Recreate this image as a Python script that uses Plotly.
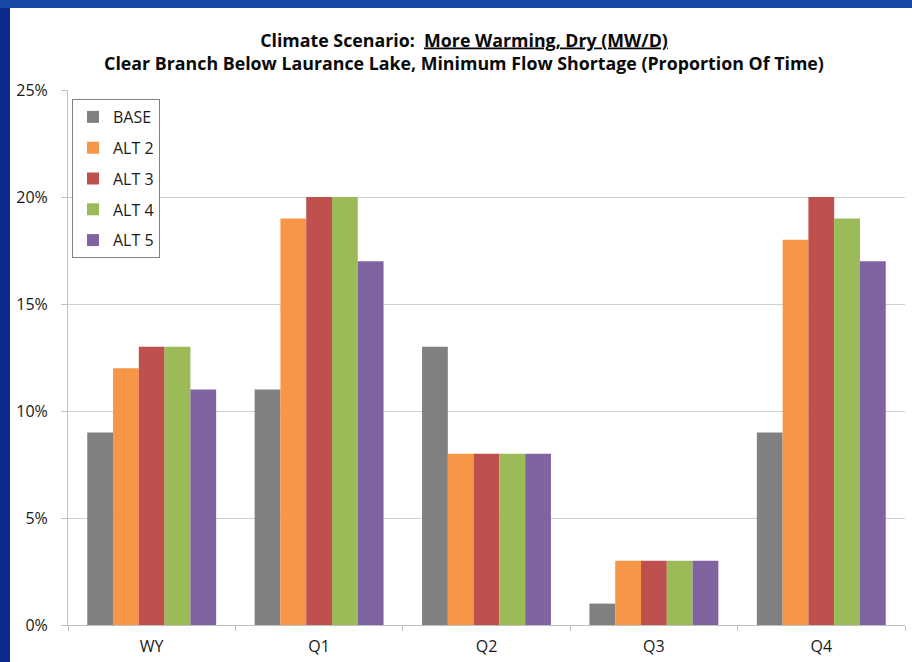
import plotly.graph_objects as go

categories = ["WY", "Q1", "Q2", "Q3", "Q4"]
series_names = ["BASE", "ALT 2", "ALT 3", "ALT 4", "ALT 5"]
base = [0.09, 0.11, 0.13, 0.01, 0.09]
alt2 = [0.12, 0.19, 0.08, 0.03, 0.18]
alt3 = [0.13, 0.20, 0.08, 0.03, 0.20]
alt4 = [0.13, 0.20, 0.08, 0.03, 0.19]
alt5 = [0.11, 0.17, 0.08, 0.03, 0.17]
colors = ["#808080", "#F79646", "#C0504D", "#9BBB59", "#8064A2"]
ytick_vals = [0, 0.05, 0.10, 0.15, 0.20, 0.25]
ytick_text = ["0%", "5%", "10%", "15%", "20%", "25%"]

W, H = 912, 662
ML, MR, MT, MB = 68, 7, 90, 37
PW, PH = W - ML - MR, H - MT - MB

fig = go.Figure()
for i, (name, vals) in enumerate(zip(series_names, [base, alt2, alt3, alt4, alt5])):
    fig.add_trace(go.Bar(x=categories, y=vals, name=name, marker_color=colors[i],
                         marker_line_width=0, legendgroup=name))

font = "'Open Sans', sans-serif"


def px_x(p):
    return (p - ML) / PW


def px_y(p):
    return (H - MB - p) / PH


shapes = [
    dict(type="rect", xref="paper", yref="paper", x0=px_x(0), x1=px_x(10), y0=px_y(H), y1=px_y(0),
         fillcolor="#0B2A8C", line_width=0, layer="below"),
    dict(type="rect", xref="paper", yref="paper", x0=px_x(0), x1=px_x(W), y0=px_y(8), y1=px_y(0),
         fillcolor="#1A48A6", line_width=0, layer="below"),
]

fig.update_layout(
    width=W, height=H,
    margin=dict(l=ML, r=MR, t=MT, b=MB, pad=0, autoexpand=False),
    paper_bgcolor="white", plot_bgcolor="white",
    font=dict(family=font, size=15, color="#1A1A1A"),
    title=dict(
        text="<b>Climate Scenario:  <u>More Warming, Dry (MW/D)</u></b><br>"
             "<b>Clear Branch Below Laurance Lake, Minimum Flow Shortage (Proportion Of Time)</b>",
        x=px_x(464), xanchor="center", xref="paper", y=1 - 46.5 / H, yanchor="middle",
        font=dict(family=font, size=17.8, color="#0A0A0A"),
    ),
    barmode="group", bargap=0.23, bargroupgap=0,
    xaxis=dict(showgrid=False, showline=True, linecolor="#BFBFBF", linewidth=1,
               ticks="outside", tickson="boundaries", ticklen=5, tickcolor="#BFBFBF",
               ticklabelstandoff=7, automargin=False,
               tickfont=dict(size=16, color="#1A1A1A")),
    yaxis=dict(range=[0, 0.25], tickvals=ytick_vals, ticktext=ytick_text,
               showgrid=True, gridcolor="#D0D0D0", gridwidth=1,
               showline=True, linecolor="#BFBFBF", linewidth=1,
               ticks="outside", ticklen=6, tickcolor="#BFBFBF", zeroline=False,
               ticklabelstandoff=10, automargin=False,
               tickfont=dict(size=16, color="#1A1A1A")),
    legend=dict(x=px_x(72), y=px_y(99), xanchor="left", yanchor="top",
                bordercolor="#808080", borderwidth=1, bgcolor="white",
                tracegroupgap=7, font=dict(size=16, color="#1A1A1A"), itemwidth=30),
    shapes=shapes,
)

fig.write_html("out.html", config={"displayModeBar": False},
               post_script="document.body.style.margin='0';")
